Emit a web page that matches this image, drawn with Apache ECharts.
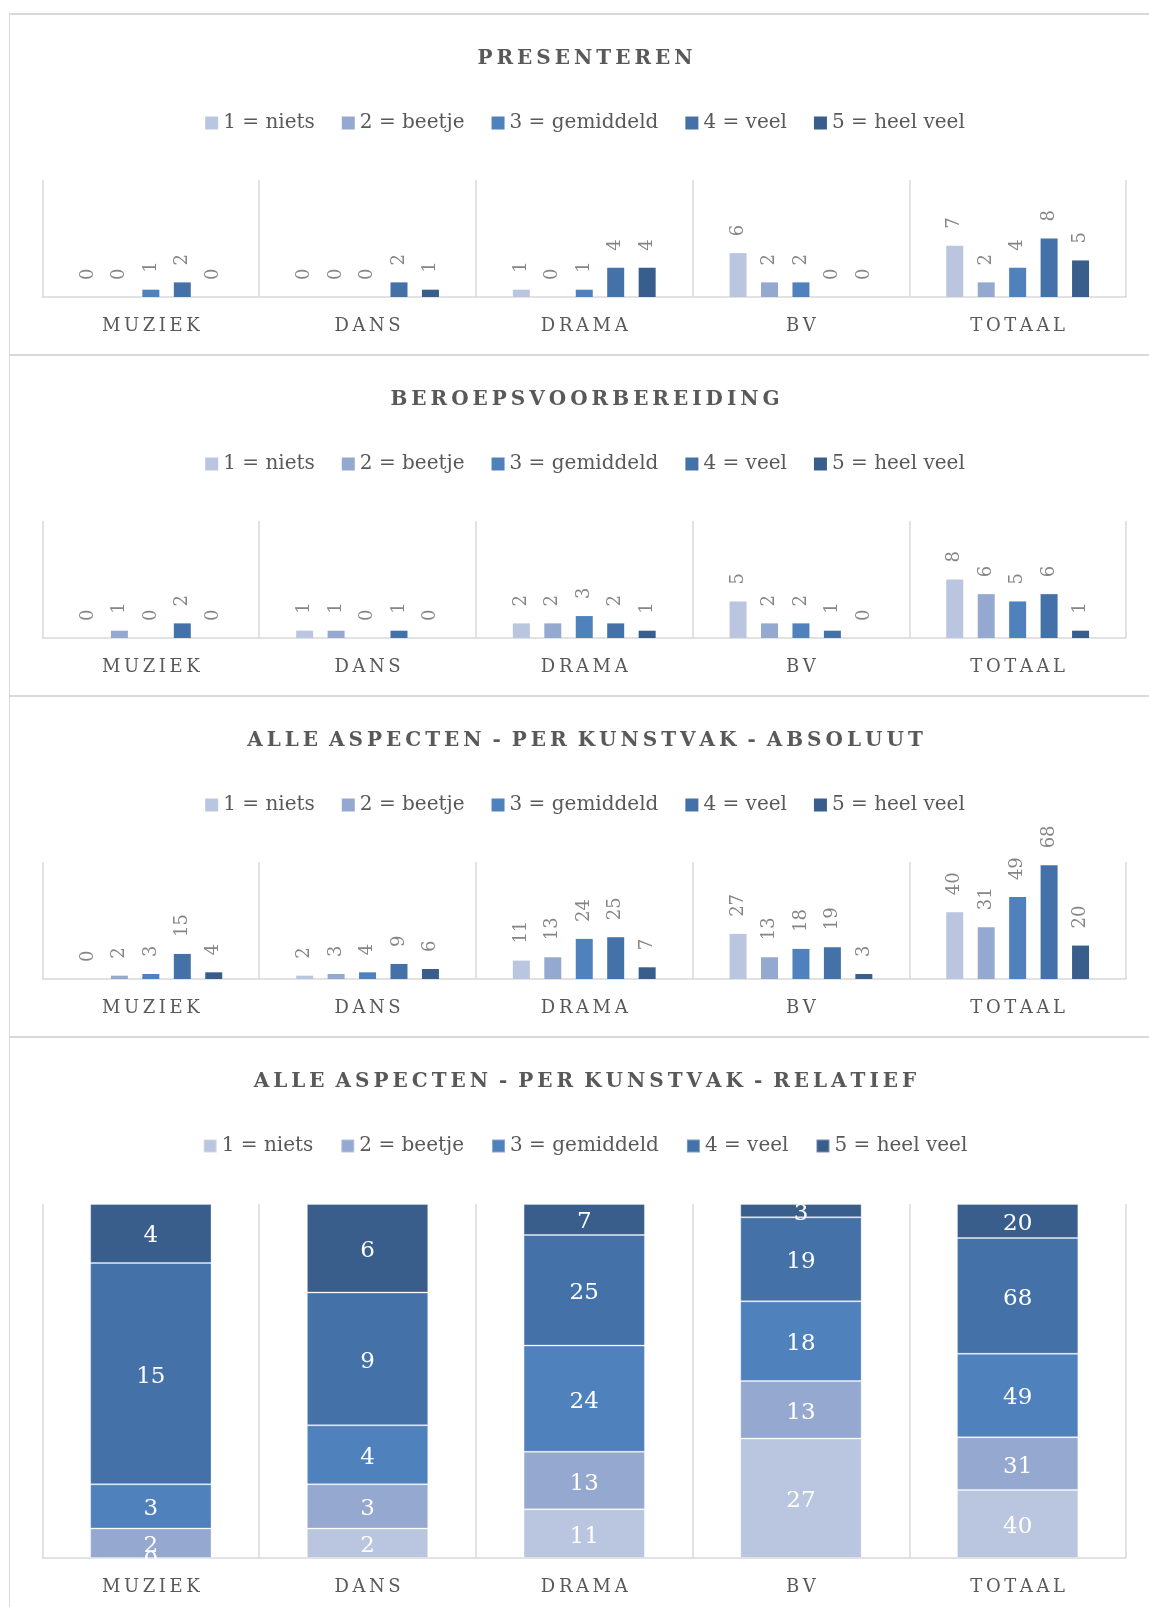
<!DOCTYPE html>
<html>
<head>
<meta charset="utf-8">
<script src="https://cdn.jsdelivr.net/npm/echarts@6/dist/echarts.min.js"></script>
<style>
  html, body { margin: 0; padding: 0; background: #fff; width: 1149px; height: 1607px; overflow: hidden; position: relative; }
  .panel { position: absolute; left: 9px; width: 1160px; box-sizing: border-box; border: 2px solid #d9d9d9; border-left-width: 1px; background: #fff; }
  .chart { position: absolute; left: 0; top: 0; width: 1150px; height: 100%; }
</style>
</head>
<body>
<div class="panel" style="top:13px;height:343px"><div id="c1" class="chart"></div></div>
<div class="panel" style="top:354px;height:343px"><div id="c2" class="chart"></div></div>
<div class="panel" style="top:695px;height:343px"><div id="c3" class="chart"></div></div>
<div class="panel" style="top:1036px;height:580px"><div id="c4" class="chart"></div></div>
<script>
const categories = ["MUZIEK", "DANS", "DRAMA", "BV", "TOTAAL"];
const levels = ["1 = niets", "2 = beetje", "3 = gemiddeld", "4 = veel", "5 = heel veel"];
const colors = ["#bac6df", "#95a9d0", "#4f81bd", "#4472a8", "#3a5e8c"];

// one row per level, one column per category
const presenteren = [
  [0, 0, 1, 6, 7],
  [0, 0, 0, 2, 2],
  [1, 0, 1, 2, 4],
  [2, 2, 4, 0, 8],
  [0, 1, 4, 0, 5],
];
const beroepsvoorbereiding = [
  [0, 1, 2, 5, 8],
  [1, 1, 2, 2, 6],
  [0, 0, 3, 2, 5],
  [2, 1, 2, 1, 6],
  [0, 0, 1, 0, 1],
];
const alleAspecten = [
  [0, 2, 11, 27, 40],
  [2, 3, 13, 13, 31],
  [3, 4, 24, 18, 49],
  [15, 9, 25, 19, 68],
  [4, 6, 7, 3, 20],
];

const FONT = "DejaVu Serif";

// wide letter spacing like the original titles
function spaced(s) {
  return s.split(" ").map(w => w.split("").join("\u2009")).join(" \u2009");
}

function baseOption(title, gridHeight) {
  return {
    animation: false,
    color: colors,
    title: {
      text: spaced(title),
      left: "center",
      top: 28,
      textStyle: { fontFamily: FONT, fontSize: 20, fontWeight: "bold", color: "#595959", lineHeight: 22 },
    },
    legend: {
      data: levels,
      top: 93,
      left: "center",
      icon: "rect",
      itemWidth: 13,
      itemHeight: 13,
      itemGap: 27,
      textStyle: { fontFamily: FONT, fontSize: 20, color: "#595959", lineHeight: 20 },
    },
    grid: { left: 32.5, right: 34, top: 165, height: gridHeight },
    xAxis: {
      type: "category",
      data: categories,
      axisLine: { lineStyle: { color: "#d9d9d9", width: 1.5 } },
      axisTick: { show: false },
      splitLine: { show: true, interval: 0, lineStyle: { color: "#d9d9d9", width: 1.5 } },
      axisLabel: {
        margin: 20,
        fontFamily: FONT,
        fontSize: 18,
        color: "#595959",
        formatter: v => v.split("").join("\u2009"),
      },
    },
  };
}

function groupedChart(id, title, rows, max) {
  const chart = echarts.init(document.getElementById(id));
  const option = baseOption(title, 117);
  option.yAxis = { type: "value", min: 0, max: max, show: false };
  option.series = levels.map((name, i) => ({
    name: name,
    type: "bar",
    data: rows[i],
    barWidth: 17,
    barGap: "85%",
    label: {
      show: true,
      position: "top",
      rotate: 90,
      align: "left",
      verticalAlign: "middle",
      distance: 17,
      fontFamily: FONT,
      fontSize: 18,
      color: "#858585",
    },
  }));
  chart.setOption(option);
}

groupedChart("c1", "PRESENTEREN", presenteren, 16);
groupedChart("c2", "BEROEPSVOORBEREIDING", beroepsvoorbereiding, 16);
groupedChart("c3", "ALLE ASPECTEN - PER KUNSTVAK - ABSOLUUT", alleAspecten, 70);

// relative chart: same counts, stacked to 100% per category
const totals = categories.map((c, j) => alleAspecten.reduce((s, r) => s + r[j], 0));
const relChart = echarts.init(document.getElementById("c4"));
const relOption = baseOption("ALLE ASPECTEN - PER KUNSTVAK - RELATIEF", 354);
relOption.grid.top = 166;
relOption.yAxis = { type: "value", min: 0, max: 100, show: false };
relOption.series = levels.map((name, i) => ({
  name: name,
  type: "bar",
  stack: "pct",
  barWidth: "56%",
  data: alleAspecten[i].map((v, j) => ({ value: (v / totals[j]) * 100, count: v })),
  itemStyle: { borderColor: "rgba(255,255,255,0.3)", borderWidth: 1 },
  label: {
    show: true,
    position: "inside",
    offset: [0, 3],
    formatter: p => p.data.count,
    fontFamily: FONT,
    fontSize: 23,
    color: "#fff",
  },
}));
relChart.setOption(relOption);
</script>
</body>
</html>
